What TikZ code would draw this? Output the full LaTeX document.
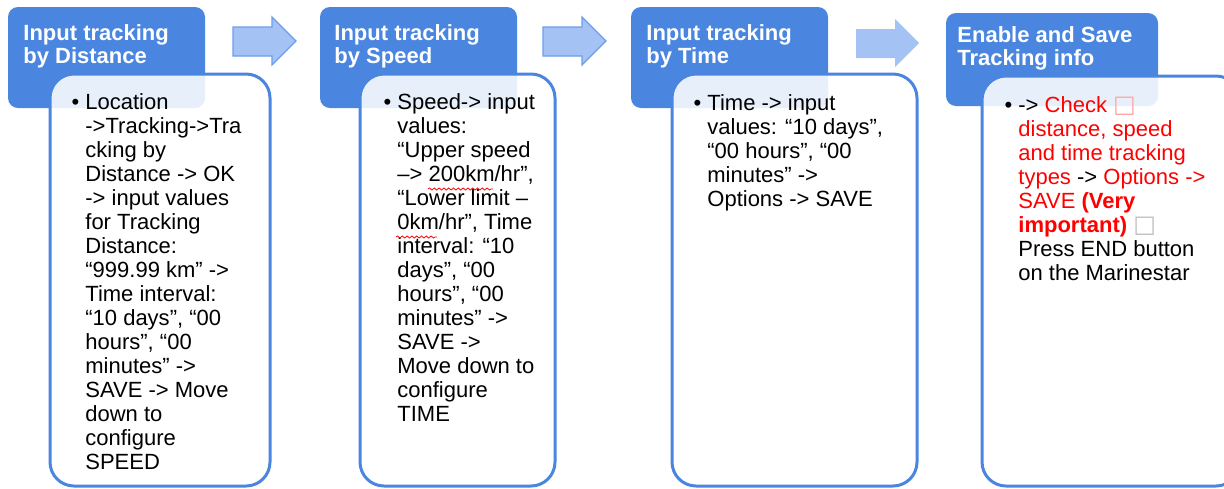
\documentclass[tikz,border=0pt]{standalone}
\usepackage{fontspec}
\setmainfont{Liberation Sans}
\newfontfamily\boxfont{DejaVu Sans}
\usetikzlibrary{decorations.pathmorphing}
\definecolor{headblue}{RGB}{74,134,224}
\definecolor{arrowfill}{RGB}{164,194,244}
\definecolor{arrowline}{RGB}{106,158,235}
\definecolor{alertred}{RGB}{255,0,0}
\newcommand\missingglyph[1]{\textcolor{#1}{\boxfont\fontsize{12}{12}\selectfont □}}
\begin{document}
\begin{tikzpicture}[x=0.5pt,y=-0.5pt,
    headbox/.style={fill=headblue,rounded corners=5pt},
    bodybox/.style={draw=headblue,line width=1.5pt,fill=white,fill opacity=0.87,rounded corners=12pt},
    headtext/.style={text=white,font=\bfseries\fontsize{11}{11.5}\selectfont,align=left,inner sep=0pt,anchor=base west},
    bodytext/.style={font=\fontsize{11}{12}\selectfont,align=left,inner sep=0pt,anchor=base west},
    flow/.style={fill=arrowfill,draw=arrowline,line width=0.6pt},
    flowlight/.style={fill=arrowfill},
    spellwave/.style={draw=red,line width=0.4pt,decorate,decoration={snake,amplitude=0.5pt,segment length=2.4pt}}]
    \clip (0,0) rectangle (1224,488);
    % arrows between the steps
    \foreach \x/\d/\s in {233/0/flow,543/0/flow,856/2/flowlight}
      \path[\s] (\x,{27+\d}) -- ({\x+39},{27+\d}) -- ({\x+39},{17+\d}) -- ({\x+63},{41+\d})
        -- ({\x+39},{65+\d}) -- ({\x+39},{56+\d}) -- (\x,{56+\d}) -- cycle;
    % step headers
    \fill[headbox] (8,7) rectangle (205,108);
    \fill[headbox] (320,7) rectangle (517,108);
    \fill[headbox] (631,7) rectangle (828,108);
    \fill[headbox] (946,13) rectangle (1158,106);
    % step bodies
    \draw[bodybox] (50,74) rectangle (270,486);
    \draw[bodybox] (360,74) rectangle (555,486);
    \draw[bodybox] (672,74) rectangle (917,486);
    \draw[bodybox] (982,76) rectangle (1240,486);
    % texts (placed at the baseline of their last line)
    \node[headtext] (head1) at (23,63) {Input tracking\\by Distance};
    \node[headtext] (head2) at (334,63) {Input tracking\\by Speed};
    \node[headtext] (head3) at (646,63) {Input tracking\\by Time};
    \node[headtext] (head4) at (957,65) {Enable and Save\\Tracking info};
    \node[bodytext] (note1) at (85,469) {\llap{\textbullet\hspace{3pt}}Location\\->Tracking->Tra\\cking by\\Distance -> OK\\-> input values\\for Tracking\\Distance:\\“999.99 km” ->\\Time interval:\\“10 days”, “00\\hours”, “00\\minutes” ->\\SAVE -> Move\\down to\\configure\\SPEED};
    \node[bodytext] (note2) at (397,421) {\llap{\textbullet\hspace{3pt}}Speed-> input\\values:\\“Upper speed\\–> 200km/hr”,\\“Lower limit –\\0km/hr”, Time\\interval: “10\\days”, “00\\hours”, “00\\minutes” ->\\SAVE ->\\Move down to\\configure\\TIME};
    \node[bodytext] (note3) at (707,206) {\llap{\textbullet\hspace{3pt}}Time -> input\\values: “10 days”,\\“00 hours”, “00\\minutes” ->\\Options -> SAVE};
    \node[bodytext] (note4) at (1018,280) {\llap{\textbullet\hspace{3pt}}-> \textcolor{alertred}{Check} \missingglyph{alertred!35}\\
      \textcolor{alertred}{distance, speed}\\
      \textcolor{alertred}{and time tracking}\\
      \textcolor{alertred}{types} -> \textcolor{alertred}{Options ->}\\
      \textcolor{alertred}{SAVE \textbf{(Very}}\\
      \textcolor{alertred}{\textbf{important)}} \missingglyph{gray!50}\\
      Press END button\\on the Marinestar};
    % spell-check marks
    \draw[spellwave] (428,189) -- (493,189);
    \draw[spellwave] (396,237) -- (437,237);
\end{tikzpicture}
\end{document}
